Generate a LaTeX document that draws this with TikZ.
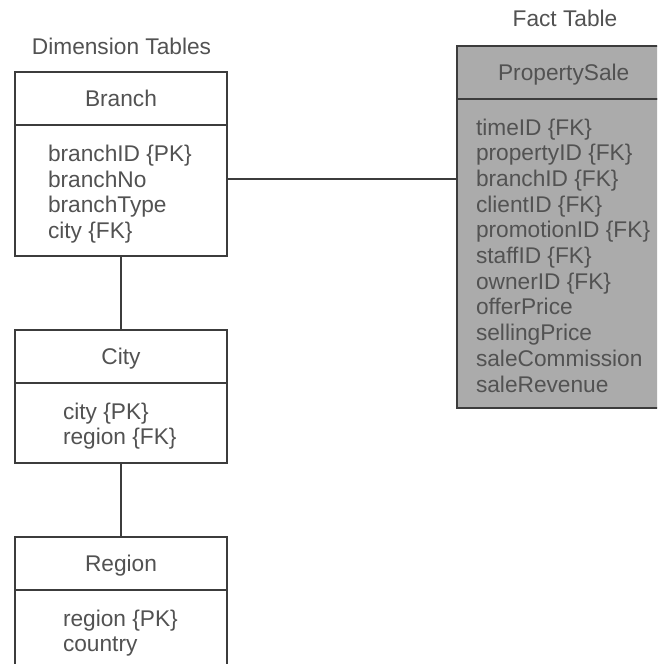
\documentclass[tikz,border=0pt]{standalone}
\usepackage{fontspec}
\setmainfont{Liberation Sans}
\definecolor{txt}{HTML}{525252}
\definecolor{edge}{HTML}{3C3C3C}
\definecolor{factfill}{HTML}{ABABAB}
\begin{document}
\begin{tikzpicture}[x=1pt,y=-1pt,
  every node/.style={inner sep=0pt,outer sep=0pt,font=\fontsize{22.7}{25.5}\selectfont,text=txt},
  tbox/.style={draw=edge,line width=1.8pt,minimum width=212pt,anchor=north west},
  thead/.style={tbox,minimum height=53pt,text height=16pt,text depth=0pt},
  attr/.style={anchor=base west},
  lbl/.style={anchor=base},
  link/.style={draw=edge,line width=1.6pt}]
\useasboundingbox (0,0) rectangle (657,664);
\clip (0,0) rectangle (657,664);
\fill[white] (0,0) rectangle (657,664);

% captions
\node[lbl] (dimcap) at (121.5,54) {Dimension Tables};
\node[lbl] (factcap) at (565,26) {Fact Table};

% Branch
\node[thead] (branch) at (15,72) {Branch};
\node[tbox,minimum height=131pt] (branchbody) at (15,125) {};
\foreach \t [count=\i from 0] in {branchID \{PK\},branchNo,branchType,city \{FK\}}
  \node[attr] at (48,{161.7+25.5*\i}) {\t};

% City
\node[thead] (city) at (15,330) {City};
\node[tbox,minimum height=80pt] (citybody) at (15,383) {};
\foreach \t [count=\i from 0] in {city \{PK\},region \{FK\}}
  \node[attr] at (63,{419.3+25.5*\i}) {\t};

% Region
\node[thead] (region) at (15,537) {Region};
\node[tbox,minimum height=120pt] (regionbody) at (15,590) {};
\foreach \t [count=\i from 0] in {region \{PK\},country}
  \node[attr] at (63,{626+25.5*\i}) {\t};

% Fact table
\node[thead,fill=factfill,minimum width=214pt] (fact) at (456.7,46) {PropertySale};
\node[tbox,fill=factfill,minimum width=214pt,minimum height=309.4pt] (factbody) at (456.7,98.6) {};
\foreach \t [count=\i from 0] in {timeID \{FK\},propertyID \{FK\},branchID \{FK\},clientID \{FK\},promotionID \{FK\},staffID \{FK\},ownerID \{FK\},offerPrice,sellingPrice,saleCommission,saleRevenue}
  \node[attr] at (476,{135+25.7*\i}) {\t};

% connectors
\coordinate (lk) at ([yshift=11.5pt]branchbody.east);
\draw[link] (lk) -- (lk -| factbody.west);
\draw[link] (branchbody.south) -- (city.north);
\draw[link] (citybody.south) -- (region.north);
\end{tikzpicture}
\end{document}
